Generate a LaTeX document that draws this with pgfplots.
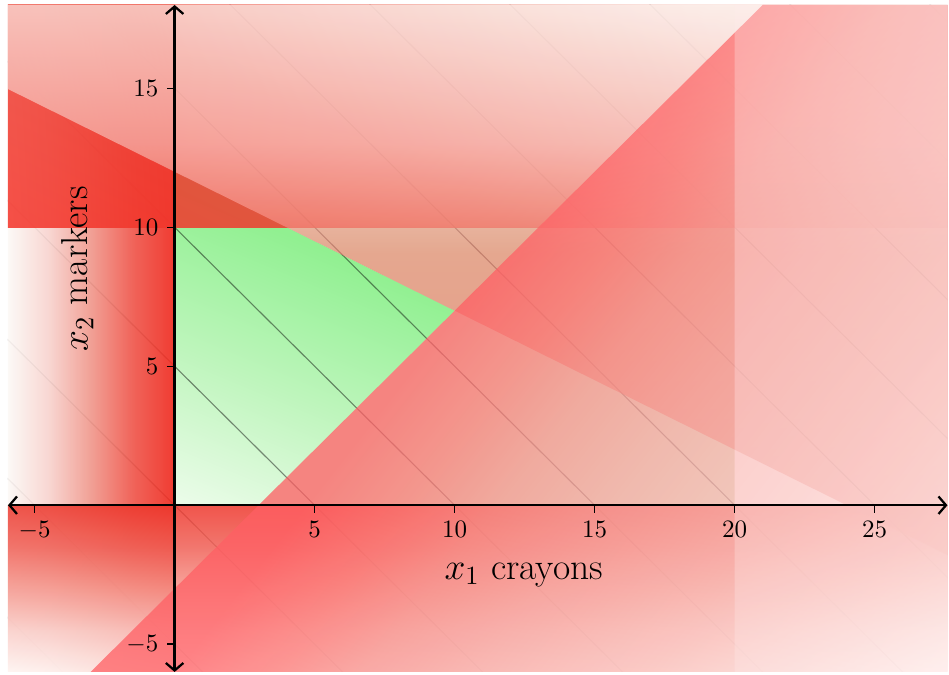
\RequirePackage{fix-cm}
\documentclass[border=0pt]{standalone}
\usepackage{pgfplots}
\pgfplotsset{compat=1.18}
\usetikzlibrary{arrows.meta}

\definecolor{under}{RGB}{218,246,214}
\definecolor{gG0}{RGB}{236,252,234}
\definecolor{gG1}{RGB}{190,245,188}
\definecolor{gG2}{RGB}{160,242,160}
\definecolor{gG3}{RGB}{145,240,145}
\definecolor{cC0}{RGB}{252,248,245}
\definecolor{cC1}{RGB}{247,210,205}
\definecolor{cC2}{RGB}{240,150,138}
\definecolor{cC3}{RGB}{238,83,72}
\definecolor{cC4}{RGB}{238,38,27}
\definecolor{cD0}{RGB}{255,245,242}
\definecolor{cD1}{RGB}{250,205,200}
\definecolor{cD2}{RGB}{245,150,140}
\definecolor{cD3}{RGB}{240,95,85}
\definecolor{cD4}{RGB}{237,55,44}
\definecolor{cA0}{RGB}{244,50,40}
\definecolor{cA1}{RGB}{240,58,47}
\definecolor{cA2}{RGB}{240,98,86}
\definecolor{cA3}{RGB}{245,185,175}
\definecolor{cA4}{RGB}{250,225,220}
\definecolor{cA5}{RGB}{253,248,245}
\definecolor{cB0}{RGB}{235,95,85}
\definecolor{cB1}{RGB}{236,115,100}
\definecolor{cB2}{RGB}{235,125,105}
\definecolor{cB3}{RGB}{248,195,188}
\definecolor{cB4}{RGB}{252,240,235}
\definecolor{cE0}{RGB}{255,95,100}
\definecolor{cE1}{RGB}{252,120,118}
\definecolor{cE2}{RGB}{248,145,140}
\definecolor{cE3}{RGB}{248,165,160}
\definecolor{cE4}{RGB}{250,190,185}
\definecolor{cE5}{RGB}{255,240,238}
\definecolor{cF}{RGB}{255,235,235}

\pgfdeclareverticalshading{shG}{100bp}{color(0bp)=(gG0); color(17.3bp)=(gG0); color(40.4bp)=(gG1); color(55.8bp)=(gG2); color(63.5bp)=(gG3); color(100bp)=(gG3)}
\pgfdeclarehorizontalshading{shC}{100bp}{color(0bp)=(cC0); color(25bp)=(cC0); color(37.2bp)=(cC1); color(49.8bp)=(cC2); color(62.4bp)=(cC3); color(75bp)=(cC4); color(100bp)=(cC4)}
\pgfdeclareverticalshading{shD}{100bp}{color(0bp)=(cD0); color(25bp)=(cD0); color(37.5bp)=(cD1); color(50bp)=(cD2); color(62.5bp)=(cD3); color(75bp)=(cD4); color(100bp)=(cD4)}
\pgfdeclareverticalshading{shA}{100bp}{color(0bp)=(cA0); color(16.45bp)=(cA0); color(29.3bp)=(cA1); color(41.6bp)=(cA2); color(61.1bp)=(cA3); color(70.8bp)=(cA4); color(83.55bp)=(cA5); color(100bp)=(cA5)}
\pgfdeclareverticalshading{shB}{100bp}{color(0bp)=(cB0); color(25bp)=(cB0); color(42.2bp)=(cB1); color(52.3bp)=(cB2); color(62.4bp)=(cB3); color(75bp)=(cB4); color(100bp)=(cB4)}
\pgfdeclareverticalshading{shE}{100bp}{color(0bp)=(cE0); color(45.8bp)=(cE0); color(50.9bp)=(cE1); color(55.4bp)=(cE2); color(61.2bp)=(cE3); color(70.2bp)=(cE4); color(85.1bp)=(cE5); color(100bp)=(cE5)}

\begin{document}
\begin{tikzpicture}
\begin{axis}[
  scale only axis, width=375.8pt, height=266.8pt,
  xmin=-5.95, xmax=27.6, ymin=-6, ymax=18,
  axis lines=middle, axis on top,
  axis line style={line width=0.9pt, {Straight Barb[length=3pt,width=7pt]}-{Straight Barb[length=3pt,width=7pt]}},
  xtick={-5,5,10,15,20,25}, ytick={-5,5,10,15},
  tick align=outside, major tick length=3pt,
  every tick/.style={black, line width=0.6pt},
  tick label style={font=\fontsize{10}{12}\selectfont},
  xlabel={$x_1$ crayons}, ylabel={$x_2$ markers},
  label style={font=\fontsize{15}{18}\selectfont},
  xlabel style={at={(axis description cs:0.549,0.146)}, anchor=center},
  ylabel style={at={(axis description cs:0.074,0.604)}, anchor=center, rotate=90},
]
% light green underlay in the box 0<=x1<=20, 0<=x2<=10
\addplot[draw=none, fill=under]
  coordinates {(0,0) (20,0) (20,10) (0,10) (0,0)};
% green gradient on the side of the optimum
\addplot[draw=none, shade, shading=shG, shading angle=-22.6]
  coordinates {(0,0) (3,0) (10,7) (0,12) (0,0)};
% objective contour lines x1 + x2 = c
\addplot[black, opacity=0.45, line width=0.45pt] coordinates {(-6,-4) (28,-38)};
\addplot[black, opacity=0.45, line width=0.45pt] coordinates {(-6,1) (28,-33)};
\addplot[black, opacity=0.45, line width=0.45pt] coordinates {(-6,6) (28,-28)};
\addplot[black, opacity=0.45, line width=0.45pt] coordinates {(-6,11) (28,-23)};
\addplot[black, opacity=0.45, line width=0.45pt] coordinates {(-6,16) (28,-18)};
\addplot[black, opacity=0.45, line width=0.45pt] coordinates {(-6,21) (28,-13)};
\addplot[black, opacity=0.45, line width=0.45pt] coordinates {(-6,26) (28,-8)};
\addplot[black, opacity=0.45, line width=0.45pt] coordinates {(-6,31) (28,-3)};
\addplot[black, opacity=0.45, line width=0.45pt] coordinates {(-6,36) (28,2)};
\addplot[black, opacity=0.45, line width=0.45pt] coordinates {(-6,41) (28,7)};
\addplot[black, opacity=0.45, line width=0.45pt] coordinates {(-6,46) (28,12)};
\addplot[black, opacity=0.45, line width=0.45pt] coordinates {(-6,51) (28,17)};
% x1 >= 0 violated
\addplot[draw=none, shade, shading=shC, fill opacity=0.9]
  coordinates {(-5.95,-6) (0,-6) (0,18) (-5.95,18) (-5.95,-6)};
% x2 >= 0 violated
\addplot[draw=none, shade, shading=shD, fill opacity=0.85]
  coordinates {(-5.95,-6) (27.6,-6) (27.6,0) (-5.95,0) (-5.95,-6)};
% x2 <= 10 violated
\addplot[draw=none, shade, shading=shA, shading angle=-26.7, fill opacity=0.85]
  coordinates {(-5.95,10) (27.6,10) (27.6,18) (-5.95,18) (-5.95,10)};
% x1 + 2 x2 <= 24 violated
\addplot[draw=none, shade, shading=shB, fill opacity=0.65]
  coordinates {(-5.95,14.975) (-5.95,18) (27.6,18) (27.6,-1.8) (-5.95,14.975)};
% x1 - x2 <= 3 violated
\addplot[draw=none, shade, shading=shE, shading angle=-128.1, fill opacity=0.75]
  coordinates {(-3,-6) (27.6,-6) (27.6,18) (21,18) (-3,-6)};
% x1 <= 20 violated
\addplot[draw=none, fill=cF, fill opacity=0.3]
  coordinates {(20,-6) (27.6,-6) (27.6,18) (20,18) (20,-6)};
\end{axis}
\path (current axis.south west) ++(-3.2pt,-1.2pt);
\path (current axis.north east) ++(0.6pt,2pt);
\end{tikzpicture}
\end{document}
